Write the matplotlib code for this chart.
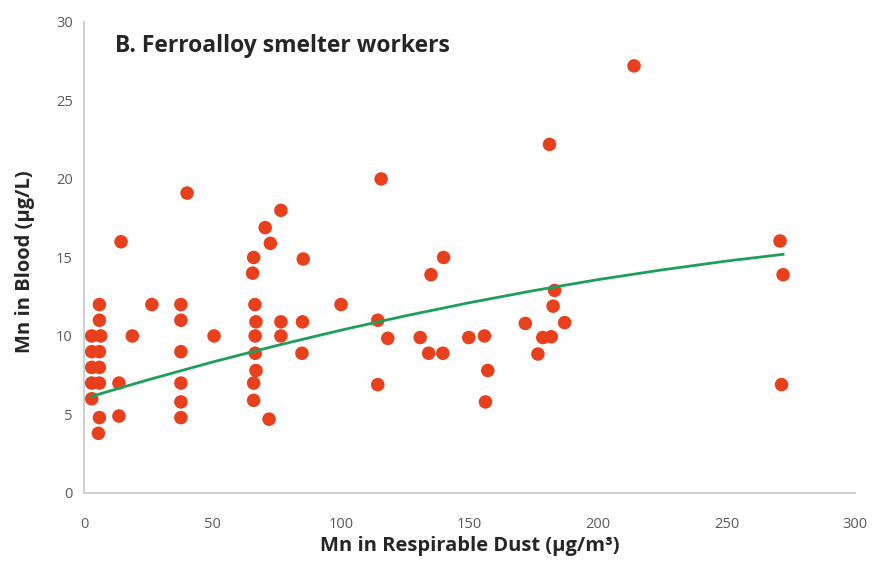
import matplotlib
matplotlib.use("Agg")
import matplotlib.pyplot as plt

dust_x = [3, 3, 3, 3, 3,
          6, 6, 6.5, 6, 6, 6, 6, 5.6,
          13.6, 13.6, 14.4, 18.8, 26.4,
          37.7, 37.7, 37.7, 37.7, 37.7, 37.7, 40.1, 50.6,
          66, 65.6, 66.5, 66.9, 66.6, 66.6, 66.9, 66, 66,
          70.5, 72.5, 72, 76.6, 76.6, 76.6, 85.3, 85, 84.8, 100,
          115.6, 114.3, 118.2, 114.3,
          130.8, 134.1, 135, 139.6, 139.9,
          149.7, 155.8, 157.1, 156.2,
          171.7, 176.6, 178.5, 181.8, 181.1, 182.5, 183.1, 187,
          214, 270.8, 272, 271.4]
blood_y = [10, 9, 8, 7, 6,
           12, 11, 10, 9, 8, 7, 4.8, 3.8,
           7, 4.9, 16, 10, 12,
           12, 11, 9, 7, 5.8, 4.8, 19.1, 10,
           15, 14, 12, 10.9, 10, 8.9, 7.8, 7, 5.9,
           16.9, 15.9, 4.7, 18, 10.9, 10, 14.9, 10.9, 8.9, 12,
           20, 11, 9.85, 6.9,
           9.9, 8.9, 13.9, 8.9, 15,
           9.9, 10, 7.8, 5.8,
           10.8, 8.85, 9.9, 9.95, 22.2, 11.9, 12.9, 10.85,
           27.2, 16.05, 13.9, 6.9]

# trendline
trend_x = [3, 25, 50, 75, 100, 125, 150, 175, 200, 225, 250, 272]
trend_y = [6.16, 7.21, 8.34, 9.39, 10.37, 11.28, 12.12, 12.89, 13.59, 14.21, 14.77, 15.2]

x_ticks = [0, 50, 100, 150, 200, 250, 300]
y_ticks = [0, 5, 10, 15, 20, 25, 30]

plt.rcParams['font.family'] = ['Open Sans', 'DejaVu Sans']

fig = plt.figure(figsize=(8.87, 5.62), dpi=100)
ax = fig.add_axes([0.0947, 0.1228, 0.964 - 0.0947, 0.961 - 0.1228])

ax.scatter(dust_x, blood_y, s=95, color='#E8401C', edgecolors='none', zorder=3)
ax.plot(trend_x, trend_y, color='#1E9E5A', lw=2, zorder=4)

ax.set_xlim(0, 300)
ax.set_ylim(0, 30)
ax.set_xticks(x_ticks)
ax.set_yticks(y_ticks)
ax.tick_params(axis='x', length=0, labelsize=10.5, colors='#595959', pad=17)
ax.tick_params(axis='y', length=0, labelsize=10.5, colors='#595959', pad=8)
for s in ['top', 'right']:
    ax.spines[s].set_visible(False)
for s in ['left', 'bottom']:
    ax.spines[s].set_color('#D0D0D0')
    ax.spines[s].set_linewidth(1.5)

ax.set_xlabel('Mn in Respirable Dust (µg/m³)', fontsize=14.5, fontweight='bold', color='#262626', labelpad=3)
ax.set_ylabel('Mn in Blood (µg/L)', fontsize=14.5, fontweight='bold', color='#262626')
ax.yaxis.set_label_coords(-0.063, 0.49)
ax.text(0.04, 0.975, 'B. Ferroalloy smelter workers', transform=ax.transAxes,
        fontsize=16.5, fontweight='bold', color='#262626', va='top', ha='left')

fig.savefig('out.png', dpi=100)
